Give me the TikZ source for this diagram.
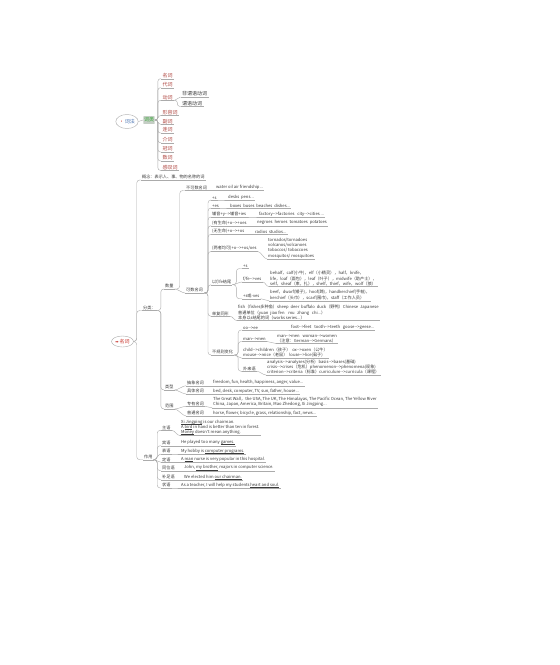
\documentclass[tikz,border=0pt]{standalone}
\usepackage{fontspec}
\setmainfont{Noto Sans CJK SC}
\newfontfamily\djv{DejaVu Sans}
\usetikzlibrary{shapes.geometric}
\definecolor{lc}{HTML}{ABABAB}
\definecolor{tc}{HTML}{3A3A3A}
\definecolor{rc}{HTML}{B0453F}
\definecolor{bc}{HTML}{4570B0}
\definecolor{rd}{HTML}{C8332B}
\definecolor{gbg}{HTML}{C5CEC5}
\definecolor{gtx}{HTML}{38A838}
\newsavebox\ulbox
\newcommand\uln[1]{\sbox\ulbox{#1}\rlap{\rule[-0.9pt]{\wd\ulbox}{0.3pt}}\usebox\ulbox}
\newcommand\apo{{\djv ’}}
\newcommand\fsa{\fontsize{4.15}{5.3}\selectfont}
\newcommand\fsb{\fontsize{5}{6}\selectfont}
\newcommand\arw{-\kern0pt-\kern0pt>}
\newcommand\lk[4][3pt]{\draw[conn,rounded corners=#1] (#2) -- ++(#4,0) |- (#3);}
\newcommand\lkb[2]{\draw[conn] (#1) .. controls +(3,0) and +(-3,0) .. (#2);}
\tikzset{
 conn/.style={draw=lc,line width=0.4pt},
 bs/.style={anchor=south west,inner xsep=1pt,inner ysep=0.6pt,font=\fsa,text=tc,align=left,
   append after command={(\tikzlastnode.south west) edge[conn] (\tikzlastnode.south east)}},
 tp/.style={bs,font=\fsb,text=rc,inner xsep=1.5pt},
 tq/.style={bs,font=\fsb,inner xsep=1.5pt},
 ell/.style={ellipse,draw=lc,line width=0.4pt,inner sep=0pt,font=\fsb},
}
\begin{document}
\begin{tikzpicture}[x=1pt,y=-1pt]
\fill[white] (0,0) rectangle (560,665);
\useasboundingbox (0,0) rectangle (560,665);
% ---------- 词法 ----------
\node[ell,minimum width=21pt,minimum height=14pt,text=bc] (cf) at (127,121.5) {{\color{rd}•}\,词法};
\node[fill=gbg,text=gtx,font=\fsb,minimum width=11.4pt,minimum height=7.6pt,inner sep=0.5pt,rounded corners=0.5pt] (cl) at (149,120) {词类};
\draw[conn] (cf.east) -- (cl.west);
\node[tp] (t1) at (161,78.7) {名词};
\node[tp] (t2) at (161,87.7) {代词};
\node[tp] (t3) at (161,100.4) {动词};
\node[tq] (v1) at (180.5,97) {非谓语动词};
\node[tq] (v2) at (180.5,106.4) {谓语动词};
\node[tp] (t4) at (161,115.4) {形容词};
\node[tp] (t5) at (161,124.4) {副词};
\node[tp] (t6) at (161,133) {连词};
\node[tp] (t7) at (161,142.7) {介词};
\node[tp] (t8) at (161,152) {冠词};
\node[tp] (t9) at (161,161) {数词};
\node[tp] (t10) at (161,170.4) {感叹词};
\foreach \n in {t1,t2,t3,t6,t7,t8,t9,t10}{\lk[2.5pt]{cl.east}{\n.south west}{3}}
\lkb{cl.east}{t4.south west}
\lkb{cl.east}{t5.south west}
\lkb{t3.south east}{v1.south west}
\lk[2.5pt]{t3.south east}{v2.south west}{3}
% ---------- 名词 ----------
\node[ell,minimum width=22pt,minimum height=11pt,text=rd] (mc) at (122.5,341.5) {{\djv\fontsize{4}{4}\selectfont ➡}\,名词};
\node[bs] (gn) at (141,180) {概念：表示人、事、物的名称的词};
\node[bs] (fl) at (142,310.5) {分类：};
\node[bs] (zy) at (143,459.7) {作用};
\lk{mc.east}{gn.south west}{3}
\lk{mc.east}{fl.south west}{3}
\lk{mc.east}{zy.south west}{3}
\node[bs] (sl) at (164,289) {数量};
\node[bs] (lx) at (164,390) {类型};
\node[bs] (fw) at (164,409) {范围};
\lk{fl.south east}{sl.south west}{4}
\lk{fl.south east}{lx.south west}{4}
\lk{fl.south east}{fw.south west}{4}
\node[bs] (bks) at (185,190.5) {不可数名词};
\node[bs] (bkst) at (215,190.5) {water oil air friendship...};
\node[bs] (ks) at (185,293) {可数名词};
\lk{sl.south east}{bks.south west}{5}
\lkb{sl.south east}{ks.south west}
\lkb{bks.south east}{bkst.south west}
\node[bs] (a1) at (211,200) {+s};
\node[bs] (a1t) at (227,200) {desks\ \ pens...};
\node[bs] (a2) at (211,208) {+es};
\node[bs] (a2t) at (229,208) {boxes\ \ buses\ \ beaches\ \ dishes...};
\node[bs] (a3) at (211,217) {辅音+y\arw 辅音+ies};
\node[bs] (a3t) at (258,217) {factory\arw factories\ \ \ city\arw cities ...};
\node[bs] (a4) at (211,225.7) {(有生命)+o\arw +oes};
\node[bs] (a4t) at (256,225.7) {negroes\ \ heroes\ \ tomatoes\ \ potatoes};
\node[bs] (a5) at (211,234.3) {(无生命)+o\arw +os};
\node[bs] (a5t) at (254,234.3) {radios\ \ studios...};
\node[bs] (a6) at (211,251.5) {(两者均可)+o\arw +os/oes};
\node[bs] (a6t) at (267,259) {tornados/tornadoes\\volcanos/volcanoes\\tobaccos/ tobaccoes\\mosquitos/ mosquitoes};
\node[bs] (a7) at (211,284.7) {以f/fe结尾};
\node[bs] (a8) at (211,316.3) {单复同形};
\node[bs] (a9) at (211,355) {不规则变化};
\foreach \n in {a1,a2,a3,a4,a5,a6,a7,a8,a9}{\lk{ks.south east}{\n.south west}{4}}
\foreach \n in {a1,a2,a3,a4,a5}{\lkb{\n.south east}{\n t.south west}}
\lkb{a6.south east}{a6t.south west}
\node[bs] (b1) at (242,268.5) {+s};
\node[bs] (b2) at (242,282) {f/fe\arw ves};
\node[bs] (b2t) at (269,286.6) {behalf，calf(小牛)，elf（小精灵），half，knife，\\life，loaf（面包），leaf（叶子），midwife（助产士），\\self，sheaf（束，扎），shelf，thief，wife，wolf（狼）};
\node[bs] (b3) at (242,298.7) {+s或-ves};
\node[bs] (b3t) at (269,300.8) {beef，dwarf(矮子)，hoof(蹄)，handkerchief(手帕)，\\kerchief（头巾），scarf(围巾)，staff（工作人员）};
\lk{a7.south east}{b1.south west}{4}
\lkb{a7.south east}{b2.south west}
\lk{a7.south east}{b3.south west}{4}
\lkb{b2.south east}{b2t.south west}
\lkb{b3.south east}{b3t.south west}
\node[bs] (a8t) at (237,320.6) {fish（fishes多种鱼）sheep\ \ deer\ \ buffalo\ \ duck（野鸭）Chinese\ \ Japanese\\普通单位（yuan\ \ jiao fen\ \ \ \ mu\ \ \ zhang\ \ \ chi...）\\本身以s结尾的词（works series...）};
\lkb{a8.south east}{a8t.south west}
\node[bs] (c1) at (242,330) {oo\arw ee};
\node[bs] (c1t) at (290,330) {foot\arw feet\ \ \ tooth\arw teeth\ \ \ goose\arw geese...};
\node[bs] (c2) at (242,341.5) {man\arw men};
\node[bs] (c2t) at (276,343.5) {man\arw men\ \ \ woman\arw women\\（注意：German\arw Germans）};
\node[bs] (c3) at (242,358.3) {child\arw children（孩子）\ \ ox\arw oxen（公牛）\\mouse\arw mice（老鼠）\ \ louse\arw lice(虱子)};
\node[bs] (c4) at (242,371.3) {外来语};
\node[bs] (c4t) at (266,375) {analysis\arw analyses(分析)\ \ \ basis\arw bases(基础)\\crisis\arw crises（危机）phenomenon\arw phenomena(现象)\\criterion\arw criteria（标准）curriculum\arw curricula（课程）};
\lk{a9.south east}{c1.south west}{4}
\lk{a9.south east}{c2.south west}{4}
\lkb{a9.south east}{c3.south west}
\lk{a9.south east}{c4.south west}{4}
\lkb{c1.south east}{c1t.south west}
\lkb{c2.south east}{c2t.south west}
\lkb{c4.south east}{c4t.south west}
% 类型 / 范围
\node[bs] (d1) at (186,385.7) {抽象名词};
\node[bs] (d1t) at (212,385.7) {freedom, fun, health, happiness, anger, value...};
\node[bs] (d2) at (186,394) {具体名词};
\node[bs] (d2t) at (212,394) {bed, desk, computer, TV, sun, father, house...};
\node[bs] (e1) at (186,406.3) {专有名词};
\node[bs] (e1t) at (212,407.8) {The Great Wall，the USA, The UK, The Himalayas, The Pacific Ocean, The Yellow River\\China, Japan, America, Britain, Mao Zhedong, Xi Jingping...};
\node[bs] (e2) at (186,416) {普通名词};
\node[bs] (e2t) at (212,416) {horse, flower, bicycle, grass, relationship, fact, news...};
\lkb{lx.south east}{d1.south west}
\lkb{lx.south east}{d2.south west}
\lkb{fw.south east}{e1.south west}
\lkb{fw.south east}{e2.south west}
\foreach \n in {d1,d2,e1,e2}{\lkb{\n.south east}{\n t.south west}}
% 作用
\node[bs] (f1) at (161,430.3) {主语};
\node[bs] (f1t) at (180,435.6) {\uln{Xi Jingping} is our chairman.\\A \uln{bird} in hand is better than ten in forest.\\\uln{Money} doesn\apo t mean anything.};
\node[bs] (f2) at (161,445.7) {宾语};
\node[bs] (f2t) at (180,445.7) {He played too many \uln{games.}};
\node[bs] (f3) at (161,454) {表语};
\node[bs] (f3t) at (180,454) {My hobby is \uln{computer programs.}};
\node[bs] (f4) at (161,462.3) {定语};
\node[bs] (f4t) at (180,462.3) {A \uln{man} nurse is very popular in this hospital.};
\node[bs] (f5) at (161,470.7) {同位语};
\node[bs] (f5t) at (183,470.7) {John, \uln{my brother,} majors in computer science.};
\node[bs] (f6) at (161,479.7) {补足语};
\node[bs] (f6t) at (183,479.7) {We elected him \uln{our chairman.}};
\node[bs] (f7) at (161,488) {状语};
\node[bs] (f7t) at (180,488) {As a teacher, I will help my students \uln{heart and soul.}};
\lk{zy.south east}{f1.south west}{3.5}
\lk{zy.south east}{f2.south west}{3.5}
\lkb{zy.south east}{f3.south west}
\lkb{zy.south east}{f4.south west}
\lk{zy.south east}{f5.south west}{3.5}
\lk{zy.south east}{f6.south west}{3.5}
\lk{zy.south east}{f7.south west}{3.5}
\foreach \n in {f1,f2,f3,f4,f5,f6,f7}{\lkb{\n.south east}{\n t.south west}}
\end{tikzpicture}
\end{document}
